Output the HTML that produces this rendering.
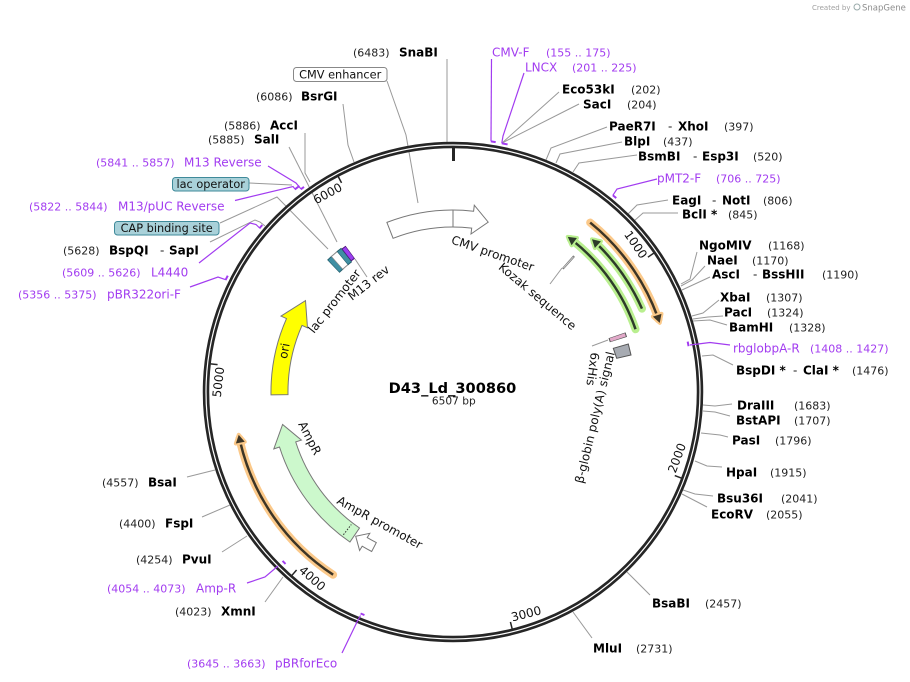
<!DOCTYPE html>
<html><head><meta charset="utf-8"><style>
html,body{margin:0;padding:0;background:#fff;}
svg{display:block;font-family:"DejaVu Sans","Liberation Sans",sans-serif;}
.b{font-weight:bold;font-size:12px;fill:#000;}
.n{font-size:11px;fill:#222;}
.p{font-size:12px;fill:#a23cf0;}
.pn{font-size:11px;fill:#a23cf0;}
.d{font-size:12px;fill:#222;}
.l{stroke:#999;stroke-width:1;fill:none;}
.pl{stroke:#a23cf0;stroke-width:1.2;fill:none;}
.f{font-size:12px;fill:#111;}
.t{font-size:12px;fill:#111;}
.pa{stroke:#a23cf0;stroke-width:2;fill:none;}
</style></head><body>
<svg width="910" height="682" viewBox="0 0 910 682" xmlns="http://www.w3.org/2000/svg">
<rect width="910" height="682" fill="#fff"/>

<!-- watermark -->
<text x="812" y="10" style="font-size:7px;fill:#a0a0a0">Created by</text>
<circle cx="857" cy="7" r="3" fill="none" stroke="#9aa" stroke-width="1"/>
<text x="862" y="10.5" style="font-size:8.5px;fill:#8c8c8c">SnapGene</text>

<!-- leader lines (gray) -->
<g class="l">
<polyline points="447,142 447,59"/>
<polyline points="354,162 348,145 343,104"/>
<polyline points="310,182 305,173 305,133"/>
<polyline points="289,147 337,242"/>
<polyline points="265,226 260,222 255,220 210,242"/>
<polyline points="502,143 559,92"/>
<polyline points="502,143 579,104"/>
<polyline points="546,160 551,148 607,127"/>
<polyline points="556,163 560,154 622,142"/>
<polyline points="573,172 579,163 637,155"/>
<polyline points="628,214 637,205 668,200"/>
<polyline points="634,221 643,213 678,213"/>
<polyline points="681,284 690,279 697,252"/>
<polyline points="681,286 692,280 705,266"/>
<polyline points="682,290 710,277"/>
<polyline points="692,316 703,313 719,300"/>
<polyline points="693,319 708,317 723,316"/>
<polyline points="693,321 710,320 727,325"/>
<polyline points="702,356 713,355 733,365"/>
<polyline points="703,405 715,406 732,404"/>
<polyline points="703,411 715,412 730,416"/>
<polyline points="701,433 720,435 728,437"/>
<polyline points="695,461 707,466 722,467"/>
<polyline points="683,490 695,494 713,496"/>
<polyline points="682,494 707,507"/>
<polyline points="627,572 650,595"/>
<polyline points="573,612 592,638"/>
<polyline points="283,577 265,602"/>
<polyline points="247,536 222,552"/>
<polyline points="230,505 202,517"/>
<polyline points="215,470 187,477"/>
<polyline points="387,81 406,135 418,203"/>
<polyline points="249,183 292,185"/>
<polyline points="220,223 277,197 328,249"/>
<polyline points="550,284 562,268"/>
<polyline points="592,346 608,340"/>
<polyline points="355,259 367,277"/>
</g>

<!-- CMV enhancer/promoter arrow -->
<path d="M386.9,222.4 A182,182 0 0 1 473.6,211.2 L474.3,205.2 L488.2,222.1 L471,234 L471.7,228.1 A165,165 0 0 0 393.1,238.3 Z" fill="#fff" stroke="#777" stroke-width="1"/>
<line x1="453" y1="210" x2="453" y2="227" stroke="#777" stroke-width="1"/>

<!-- ori -->
<path d="M271,394.9 A182,182 0 0 1 286.5,318.6 L281,316.1 L305.5,300.6 L307.5,327.8 L302,325.4 A165,165 0 0 0 288,394.6 Z" fill="#ffff00" stroke="#777" stroke-width="1"/>

<!-- AmpR -->
<path d="M349.9,542 A182,182 0 0 1 279.5,447 L273.8,448.9 L282.6,424.5 L301.4,440.1 L295.7,441.9 A165,165 0 0 0 359.5,528 Z" fill="#ccf8cc" stroke="#777" stroke-width="1"/>
<line x1="343.4" y1="534.8" x2="351.3" y2="524.5" stroke="#333" stroke-width="1" stroke-dasharray="1.5 1.5"/>
<!-- AmpR promoter -->
<path d="M371.7,551.5 A179,179 0 0 1 362.2,546.2 L359.6,550.5 L355.7,536.2 L369.8,533.3 L367.2,537.6 A169,169 0 0 0 376.3,542.6 Z" fill="#fff" stroke="#777" stroke-width="1"/>

<!-- lac region small features (r=173.5) -->
<g fill="none">
<path d="M453,218.5a173.5,173.5 0 1 1 0,347a173.5,173.5 0 1 1 0,-347" pathLength="360" stroke="#25606e" stroke-width="18" stroke-dasharray="2 720" stroke-dashoffset="-316.4"/>
<path d="M453,218.5a173.5,173.5 0 1 1 0,347a173.5,173.5 0 1 1 0,-347" pathLength="360" stroke="#3f8fa3" stroke-width="16" stroke-dasharray="1.6 720" stroke-dashoffset="-316.6"/>
<path d="M453,218.5a173.5,173.5 0 1 1 0,347a173.5,173.5 0 1 1 0,-347" pathLength="360" stroke="#888" stroke-width="18" stroke-dasharray="2.8 720" stroke-dashoffset="-318.0"/>
<path d="M453,218.5a173.5,173.5 0 1 1 0,347a173.5,173.5 0 1 1 0,-347" pathLength="360" stroke="#fff" stroke-width="16" stroke-dasharray="2.4 720" stroke-dashoffset="-318.2"/>
<path d="M453,218.5a173.5,173.5 0 1 1 0,347a173.5,173.5 0 1 1 0,-347" pathLength="360" stroke="#25606e" stroke-width="18" stroke-dasharray="1.8 720" stroke-dashoffset="-320.4"/>
<path d="M453,218.5a173.5,173.5 0 1 1 0,347a173.5,173.5 0 1 1 0,-347" pathLength="360" stroke="#3f8fa3" stroke-width="16" stroke-dasharray="1.4 720" stroke-dashoffset="-320.6"/>
<path d="M453,218.5a173.5,173.5 0 1 1 0,347a173.5,173.5 0 1 1 0,-347" pathLength="360" stroke="#4b1678" stroke-width="16" stroke-dasharray="1.6 720" stroke-dashoffset="-322.1"/>
<path d="M453,218.5a173.5,173.5 0 1 1 0,347a173.5,173.5 0 1 1 0,-347" pathLength="360" stroke="#9b3ef0" stroke-width="14" stroke-dasharray="1.2 720" stroke-dashoffset="-322.3"/>
<!-- Kozak -->
<path d="M453,218.5a173.5,173.5 0 1 1 0,347a173.5,173.5 0 1 1 0,-347" pathLength="360" stroke="#777" stroke-width="17" stroke-dasharray="0.7 720" stroke-dashoffset="-41.35"/>
<path d="M453,218.5a173.5,173.5 0 1 1 0,347a173.5,173.5 0 1 1 0,-347" pathLength="360" stroke="#ddd" stroke-width="15" stroke-dasharray="0.25 720" stroke-dashoffset="-41.58"/>
<!-- 6xHis -->
<path d="M453,218.5a173.5,173.5 0 1 1 0,347a173.5,173.5 0 1 1 0,-347" pathLength="360" stroke="#555" stroke-width="18" stroke-dasharray="1.5 720" stroke-dashoffset="-70.9"/>
<path d="M453,218.5a173.5,173.5 0 1 1 0,347a173.5,173.5 0 1 1 0,-347" pathLength="360" stroke="#e2a9c9" stroke-width="16" stroke-dasharray="1.1 720" stroke-dashoffset="-71.1"/>
</g>
<!-- beta-globin polyA -->
<polygon points="613.3,348.3 628.3,344 631,355 616.7,358.3" fill="#a7abb2" stroke="#555" stroke-width="1"/>

<!-- orange / green arcs -->
<g fill="none">
<path d="M453,174a218,218 0 1 1 0,436a218,218 0 1 1 0,-436" pathLength="360" stroke="#fbc98a" stroke-width="8" stroke-linecap="round" stroke-dasharray="31.5 720" stroke-dashoffset="-39"/>
<path d="M453,174a218,218 0 1 1 0,436a218,218 0 1 1 0,-436" pathLength="360" stroke="#3d3526" stroke-width="2.5" stroke-dasharray="30.5 720" stroke-dashoffset="-39"/>
<path d="M453,199a193,193 0 1 1 0,386a193,193 0 1 1 0,-386" pathLength="360" stroke="#b9ef8f" stroke-width="8" stroke-linecap="round" stroke-dasharray="33.4 720" stroke-dashoffset="-37.6"/>
<path d="M453,199a193,193 0 1 1 0,386a193,193 0 1 1 0,-386" pathLength="360" stroke="#2d3b2a" stroke-width="2.5" stroke-dasharray="32.2 720" stroke-dashoffset="-38.8"/>
<path d="M453,185.5a206.5,206.5 0 1 1 0,413a206.5,206.5 0 1 1 0,-413" pathLength="360" stroke="#b9ef8f" stroke-width="8" stroke-linecap="round" stroke-dasharray="22.9 720" stroke-dashoffset="-43.3"/>
<path d="M453,185.5a206.5,206.5 0 1 1 0,413a206.5,206.5 0 1 1 0,-413" pathLength="360" stroke="#2d3b2a" stroke-width="2.5" stroke-dasharray="21.7 720" stroke-dashoffset="-44.5"/>
<path d="M453,173.5a218.5,218.5 0 1 1 0,437a218.5,218.5 0 1 1 0,-437" pathLength="360" stroke="#fbc98a" stroke-width="8" stroke-linecap="round" stroke-dasharray="44.4 720" stroke-dashoffset="-213.3"/>
<path d="M453,173.5a218.5,218.5 0 1 1 0,437a218.5,218.5 0 1 1 0,-437" pathLength="360" stroke="#3d3526" stroke-width="2.5" stroke-dasharray="43.5 720" stroke-dashoffset="-213.3"/>
</g>
<g stroke-linejoin="round">
<polygon points="453,174 445,169.5 445,178.5" transform="rotate(71.5 453 392)" fill="#fbc98a" stroke="#fbc98a" stroke-width="4"/>
<polygon points="453,174 445,169.5 445,178.5" transform="rotate(71.5 453 392)" fill="#3d3526"/>
<polygon points="453,199 461,194.5 461,203.5" transform="rotate(36.5 453 392)" fill="#b9ef8f" stroke="#b9ef8f" stroke-width="4"/>
<polygon points="453,199 461,194.5 461,203.5" transform="rotate(36.5 453 392)" fill="#2d3b2a"/>
<polygon points="453,185.5 461,181 461,190" transform="rotate(42.3 453 392)" fill="#b9ef8f" stroke="#b9ef8f" stroke-width="4"/>
<polygon points="453,185.5 461,181 461,190" transform="rotate(42.3 453 392)" fill="#2d3b2a"/>
<polygon points="453,173.5 445,169 445,178" transform="rotate(258.7 453 392)" fill="#fbc98a" stroke="#fbc98a" stroke-width="4"/>
<polygon points="453,173.5 445,169 445,178" transform="rotate(258.7 453 392)" fill="#3d3526"/>
</g>

<!-- backbone ring -->
<circle cx="453" cy="392" r="247" fill="none" stroke="#262626" stroke-width="6.5"/>
<circle cx="453" cy="392" r="247" fill="none" stroke="#fff" stroke-width="1.2"/>
<line x1="453.5" y1="147" x2="453.5" y2="161" stroke="#262626" stroke-width="3"/>

<!-- ticks -->
<g stroke="#262626" stroke-width="1.5">
<line x1="453" y1="148" x2="453" y2="155" transform="rotate(55.33 453 392)"/>
<line x1="453" y1="148" x2="453" y2="155" transform="rotate(110.65 453 392)"/>
<line x1="453" y1="148" x2="453" y2="155" transform="rotate(165.98 453 392)"/>
<line x1="453" y1="148" x2="453" y2="155" transform="rotate(221.30 453 392)"/>
<line x1="453" y1="148" x2="453" y2="155" transform="rotate(276.63 453 392)"/>
<line x1="453" y1="148" x2="453" y2="155" transform="rotate(331.95 453 392)"/>
</g>
<g class="t">
<text x="451" y="162" text-anchor="end" transform="rotate(55.33 453 392)">1000</text>
<text x="455" y="629" transform="rotate(-69.35 453 392)">2000</text>
<text x="455" y="629" transform="rotate(-14.02 453 392)">3000</text>
<text x="455" y="629" transform="rotate(41.30 453 392)">4000</text>
<text x="451" y="162" text-anchor="end" transform="rotate(276.63 453 392)">5000</text>
<text x="451" y="162" text-anchor="end" transform="rotate(331.95 453 392)">6000</text>
</g>

<!-- primer marks -->
<g fill="none">
<path class="pa" d="M453,138.5a253.5,253.5 0 1 1 0,507a253.5,253.5 0 1 1 0,-507" pathLength="360" stroke-dasharray="1.1 720" stroke-dashoffset="-8.6"/>
<path class="pa" d="M453,138.5a253.5,253.5 0 1 1 0,507a253.5,253.5 0 1 1 0,-507" pathLength="360" stroke-dasharray="1.35 720" stroke-dashoffset="-11.1"/>
<path class="pa" d="M453,138.5a253.5,253.5 0 1 1 0,507a253.5,253.5 0 1 1 0,-507" pathLength="360" stroke-dasharray="0.9 720" stroke-dashoffset="-323.2"/>
<path class="pa" d="M453,135a257,257 0 1 1 0,514a257,257 0 1 1 0,-514" pathLength="360" stroke-dasharray="1.3 720" stroke-dashoffset="-322.1"/>
<path class="pa" d="M453,138.5a253.5,253.5 0 1 1 0,507a253.5,253.5 0 1 1 0,-507" pathLength="360" stroke-dasharray="1 720" stroke-dashoffset="-310.3"/>
<path class="pa" d="M453,138.5a253.5,253.5 0 1 1 0,507a253.5,253.5 0 1 1 0,-507" pathLength="360" stroke-dasharray="1.1 720" stroke-dashoffset="-296.3"/>
<path class="pa" d="M453,138.5a253.5,253.5 0 1 1 0,507a253.5,253.5 0 1 1 0,-507" pathLength="360" stroke-dasharray="1 720" stroke-dashoffset="-39.1"/>
<path class="pa" d="M453,152a240,240 0 1 1 0,480a240,240 0 1 1 0,-480" pathLength="360" stroke-dasharray="1.1 720" stroke-dashoffset="-77.9"/>
<path class="pa" d="M453,152a240,240 0 1 1 0,480a240,240 0 1 1 0,-480" pathLength="360" stroke-dasharray="1 720" stroke-dashoffset="-224.3"/>
<path class="pa" d="M453,152a240,240 0 1 1 0,480a240,240 0 1 1 0,-480" pathLength="360" stroke-dasharray="1 720" stroke-dashoffset="-201.7"/>
</g>
<g class="pl">
<polyline points="491.5,59 491,141.3"/>
<polyline points="524,73 503,136 501.8,143.2"/>
<polyline points="268,166 296,183 301,189"/>
<polyline points="235,200.5 293,186.5 295,189"/>
<polyline points="199,263 250,223 256,224.5 259.6,228"/>
<polyline points="190,287 218,277 225.7,279.7"/>
<polyline points="657,179 617,189 612.9,195.3"/>
<polyline points="730,345 710,342.5 690,345"/>
<polyline points="247,583 265,577 278,566"/>
<polyline points="342,653 357,622 360.5,615.5"/>
</g>

<!-- label boxes -->
<rect x="293.5" y="67.5" width="93.5" height="14" rx="3" fill="#fff" stroke="#888" stroke-width="1"/>
<text x="340.2" y="78.5" text-anchor="middle" style="font-size:11.3px;fill:#111">CMV enhancer</text>
<rect x="172.5" y="177.5" width="76.5" height="13.5" rx="3" fill="#a9d1d9" stroke="#3f8a9a" stroke-width="1"/>
<text x="210.7" y="188" text-anchor="middle" style="font-size:11.3px;fill:#111">lac operator</text>
<rect x="114.5" y="221.5" width="104.5" height="13.5" rx="3" fill="#a9d1d9" stroke="#3f8a9a" stroke-width="1"/>
<text x="166.7" y="232" text-anchor="middle" style="font-size:11.3px;fill:#111">CAP binding site</text>

<!-- outer labels -->
<text class="n" x="353" y="56.5">(6483)</text><text class="b" x="399" y="56.5">SnaBI</text>
<text class="p" x="492" y="56.5">CMV-F</text><text class="pn" x="546" y="56.5">(155 .. 175)</text>
<text class="p" x="525" y="71.5">LNCX</text><text class="pn" x="572" y="71.5">(201 .. 225)</text>
<text class="b" x="562" y="93.5">Eco53kI</text><text class="n" x="631" y="93.5">(202)</text>
<text class="b" x="583" y="108.5">SacI</text><text class="n" x="627" y="108.5">(204)</text>
<text class="n" x="256" y="100.5">(6086)</text><text class="b" x="301" y="100.5">BsrGI</text>
<text class="n" x="224" y="129.5">(5886)</text><text class="b" x="270" y="129.5">AccI</text>
<text class="n" x="208" y="143.5">(5885)</text><text class="b" x="254" y="143.5">SalI</text>
<text class="pn" x="96" y="166.5">(5841 .. 5857)</text><text class="p" x="184" y="166.5">M13 Reverse</text>
<text class="pn" x="29" y="210.5">(5822 .. 5844)</text><text class="p" x="118" y="210.5">M13/pUC Reverse</text>
<text class="n" x="63" y="254.5">(5628)</text><text class="b" x="109" y="254.5">BspQI</text><text class="d" x="160" y="254.5">-</text><text class="b" x="169" y="254.5">SapI</text>
<text class="pn" x="62" y="276.5">(5609 .. 5626)</text><text class="p" x="151" y="276.5">L4440</text>
<text class="pn" x="18" y="298.5">(5356 .. 5375)</text><text class="p" x="107" y="298.5">pBR322ori-F</text>

<text class="b" x="609" y="130.5">PaeR7I</text><text class="d" x="668" y="130.5">-</text><text class="b" x="678" y="130.5">XhoI</text><text class="n" x="724" y="130.5">(397)</text>
<text class="b" x="624" y="145.5">BlpI</text><text class="n" x="663" y="145.5">(437)</text>
<text class="b" x="638" y="160.5">BsmBI</text><text class="d" x="693" y="160.5">-</text><text class="b" x="702" y="160.5">Esp3I</text><text class="n" x="753" y="160.5">(520)</text>
<text class="p" x="657" y="182.5">pMT2-F</text><text class="pn" x="716" y="182.5">(706 .. 725)</text>
<text class="b" x="672" y="204.5">EagI</text><text class="d" x="712" y="204.5">-</text><text class="b" x="722" y="204.5">NotI</text><text class="n" x="763" y="204.5">(806)</text>
<text class="b" x="682" y="218.5">BclI *</text><text class="n" x="728" y="218.5">(845)</text>
<text class="b" x="699" y="249.5">NgoMIV</text><text class="n" x="768" y="249.5">(1168)</text>
<text class="b" x="707" y="264.5">NaeI</text><text class="n" x="752" y="264.5">(1170)</text>
<text class="b" x="712" y="278.5">AscI</text><text class="d" x="753" y="278.5">-</text><text class="b" x="762" y="278.5">BssHII</text><text class="n" x="822" y="278.5">(1190)</text>
<text class="b" x="720" y="301.5">XbaI</text><text class="n" x="766" y="301.5">(1307)</text>
<text class="b" x="724" y="316.5">PacI</text><text class="n" x="767" y="316.5">(1324)</text>
<text class="b" x="729" y="331.5">BamHI</text><text class="n" x="789" y="331.5">(1328)</text>
<text class="p" x="733" y="352.5">rbglobpA-R</text><text class="pn" x="810" y="352.5">(1408 .. 1427)</text>
<text class="b" x="736" y="374.5">BspDI *</text><text class="d" x="793" y="374.5">-</text><text class="b" x="803" y="374.5">ClaI *</text><text class="n" x="852" y="374.5">(1476)</text>
<text class="b" x="737" y="409.5">DraIII</text><text class="n" x="794" y="409.5">(1683)</text>
<text class="b" x="736" y="424.5">BstAPI</text><text class="n" x="794" y="424.5">(1707)</text>
<text class="b" x="732" y="444.5">PasI</text><text class="n" x="775" y="444.5">(1796)</text>
<text class="b" x="726" y="476.5">HpaI</text><text class="n" x="770" y="476.5">(1915)</text>
<text class="b" x="717" y="502.5">Bsu36I</text><text class="n" x="781" y="502.5">(2041)</text>
<text class="b" x="711" y="518.5">EcoRV</text><text class="n" x="766" y="518.5">(2055)</text>
<text class="b" x="652" y="607.5">BsaBI</text><text class="n" x="705" y="607.5">(2457)</text>
<text class="b" x="593" y="652.5">MluI</text><text class="n" x="636" y="652.5">(2731)</text>

<text class="n" x="102" y="486.5">(4557)</text><text class="b" x="148" y="486.5">BsaI</text>
<text class="n" x="119" y="527.5">(4400)</text><text class="b" x="165" y="527.5">FspI</text>
<text class="n" x="136" y="563.5">(4254)</text><text class="b" x="182" y="563.5">PvuI</text>
<text class="pn" x="107" y="592.5">(4054 .. 4073)</text><text class="p" x="196" y="592.5">Amp-R</text>
<text class="n" x="175" y="615.5">(4023)</text><text class="b" x="221" y="615.5">XmnI</text>
<text class="pn" x="187" y="667.5">(3645 .. 3663)</text><text class="p" x="275" y="667.5">pBRforEco</text>

<!-- inner feature labels -->
<text class="f" x="450.5" y="243.2" transform="rotate(19 450.5 243.2)">CMV promoter</text>
<text class="f" x="497.7" y="268.4" transform="rotate(40 497.7 268.4)">Kozak sequence</text>
<text class="f" x="314" y="334" transform="rotate(-52 314 334)">lac promoter</text>
<text class="f" x="352" y="301" transform="rotate(-38 352 301)">M13 rev</text>
<text class="f" x="298" y="424" transform="rotate(63 298 424)">AmpR</text>
<text class="f" x="336" y="503" transform="rotate(29 336 503)">AmpR promoter</text>
<text class="f" x="288.3" y="351.6" text-anchor="middle" transform="rotate(-80 288.3 351.6)">ori</text>
<text class="f" x="591" y="352" transform="rotate(98 591 352)">6xHis</text>
<text class="f" x="583" y="484" transform="rotate(-76.4 583 484)">β-globin poly(A) signal</text>

<!-- center title -->
<text x="452.5" y="393" text-anchor="middle" style="font-size:14.6px;font-weight:bold;fill:#000">D43_Ld_300860</text>
<text x="453.8" y="404.5" text-anchor="middle" style="font-size:10.6px;fill:#222">6507 bp</text>
</svg>
</body></html>
